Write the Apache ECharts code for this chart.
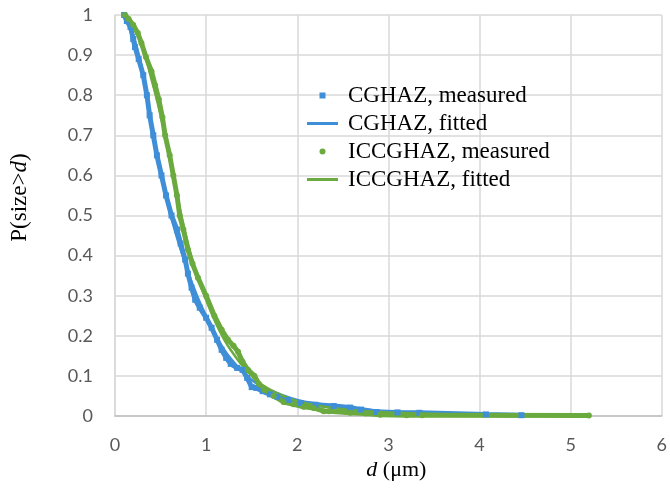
<!DOCTYPE html>
<html>
<head>
<meta charset="utf-8">
<script src="https://cdn.jsdelivr.net/npm/echarts@6/dist/echarts.min.js"></script>
<style>
  html, body { margin: 0; padding: 0; background: #fff; }
  #chart { width: 670px; height: 496px; }
</style>
</head>
<body>
<div id="chart"></div>
<script>
// measured size distributions, [d (um), P(size>d)]
var cgMeasured = [
  [0.10,1.00],[0.13,0.985],[0.17,0.97],[0.20,0.94],[0.22,0.92],[0.26,0.89],
  [0.31,0.85],[0.35,0.80],[0.38,0.75],[0.42,0.70],[0.46,0.65],[0.51,0.60],
  [0.56,0.55],[0.62,0.50],[0.68,0.465],[0.72,0.43],[0.77,0.39],[0.80,0.355],
  [0.84,0.32],[0.88,0.29],[0.93,0.27],[1.00,0.245],[1.06,0.22],[1.12,0.19],
  [1.17,0.165],[1.22,0.145],[1.27,0.13],[1.34,0.12],[1.40,0.115],[1.45,0.095],
  [1.50,0.072],[1.55,0.07],[1.62,0.062],[1.70,0.054],[1.78,0.048],[1.90,0.04],
  [2.04,0.032],[2.20,0.028],[2.40,0.025],[2.58,0.021],[2.70,0.016],[2.87,0.01],
  [3.10,0.009],[3.34,0.008],[4.07,0.004],[4.46,0.002]
];
var icMeasured = [
  [0.11,1.00],[0.15,0.99],[0.20,0.975],[0.25,0.955],[0.29,0.93],[0.34,0.895],
  [0.40,0.86],[0.44,0.825],[0.48,0.79],[0.52,0.745],[0.55,0.70],[0.60,0.65],
  [0.64,0.60],[0.68,0.55],[0.71,0.50],[0.75,0.465],[0.80,0.415],[0.85,0.38],
  [0.91,0.345],[1.00,0.30],[1.09,0.25],[1.17,0.215],[1.24,0.19],[1.30,0.175],
  [1.35,0.16],[1.40,0.135],[1.46,0.115],[1.53,0.10],[1.58,0.08],[1.64,0.065],
  [1.74,0.05],[1.85,0.035],[1.96,0.029],[2.07,0.023],[2.18,0.02],[2.29,0.012],
  [2.35,0.012],[2.58,0.008],[2.75,0.006],[2.91,0.003],[3.20,0.002],[3.37,0.002],
  [5.20,0.001]
];
// fitted curves
var cgFitted = [
  [0.10,1.00],[0.2,0.95],[0.3,0.86],[0.4,0.73],[0.5,0.61],[0.6,0.51],[0.7,0.43],
  [0.8,0.36],[0.9,0.30],[1.0,0.25],[1.1,0.205],[1.2,0.165],[1.3,0.135],[1.4,0.11],
  [1.5,0.09],[1.6,0.075],[1.8,0.055],[2.0,0.04],[2.25,0.03],[2.5,0.022],[2.75,0.016],
  [3.0,0.012],[3.5,0.008],[4.0,0.005],[4.5,0.003],[5.2,0.001]
];
var icFitted = [
  [0.11,1.00],[0.2,0.97],[0.3,0.92],[0.4,0.84],[0.5,0.75],[0.6,0.64],[0.7,0.53],
  [0.8,0.43],[0.9,0.35],[1.0,0.29],[1.1,0.235],[1.2,0.19],[1.3,0.155],[1.4,0.125],
  [1.5,0.10],[1.6,0.08],[1.8,0.055],[2.0,0.037],[2.25,0.025],[2.5,0.017],[2.75,0.012],
  [3.0,0.009],[3.5,0.005],[4.0,0.003],[4.5,0.002],[5.2,0.001]
];
var seriesNames = ['CGHAZ, measured', 'CGHAZ, fitted', 'ICCGHAZ, measured', 'ICCGHAZ, fitted'];

var blue = '#3f8fd8';
var green = '#6aaa3e';
var serif = '"Liberation Serif", "Times New Roman", serif';
var tickFont = { fontFamily: 'Lato, "Open Sans", sans-serif', fontSize: 18, color: '#595959' };

var chart = echarts.init(document.getElementById('chart'));
chart.setOption({
  animation: false,
  backgroundColor: '#fff',
  grid: { left: 113, right: 6, top: 15, bottom: 80 },
  legend: {
    orient: 'vertical',
    left: 302,
    top: 79,
    itemWidth: 31,
    itemHeight: 6,
    itemGap: 5,
    textStyle: { fontFamily: serif, fontSize: 23, color: '#000', padding: [0, 0, 0, 5] },
    data: [
      { name: seriesNames[0], icon: 'path://M0,0H1V1H0Z' },
      { name: seriesNames[1], icon: 'path://M0,0H31V3H0Z' },
      { name: seriesNames[2], icon: 'circle' },
      { name: seriesNames[3], icon: 'path://M0,0H31V3H0Z' }
    ]
  },
  xAxis: {
    type: 'value', min: 0, max: 6, interval: 1,
    name: '{i|d} (μm)',
    nameLocation: 'middle',
    nameGap: 42,
    nameTextStyle: {
      fontFamily: serif, fontSize: 22, color: '#000', padding: [0, 0, 0, 16],
      rich: { i: { fontFamily: serif, fontSize: 22, fontStyle: 'italic', color: '#000' } }
    },
    axisLine: { lineStyle: { color: '#bfbfbf', width: 1.5 } },
    axisTick: { show: false },
    axisLabel: Object.assign({ margin: 20 }, tickFont),
    splitLine: { lineStyle: { color: '#d9d9d9', width: 1.5 } }
  },
  yAxis: {
    type: 'value', min: 0, max: 1, interval: 0.1,
    name: 'P(size>{i|d})',
    nameLocation: 'middle',
    nameGap: 84,
    nameTextStyle: {
      fontFamily: serif, fontSize: 23, color: '#000', padding: [0, 0, 0, 36],
      rich: { i: { fontFamily: serif, fontSize: 23, fontStyle: 'italic', color: '#000' } }
    },
    axisLine: { show: true, lineStyle: { color: '#d9d9d9', width: 1.5 } },
    axisTick: { show: false },
    axisLabel: Object.assign({ margin: 22 }, tickFont),
    splitLine: { lineStyle: { color: '#d9d9d9', width: 1.5 } }
  },
  series: [
    {
      name: seriesNames[0], type: 'line', data: cgMeasured,
      symbol: 'rect', symbolSize: 6, showSymbol: true,
      itemStyle: { color: blue },
      lineStyle: { color: blue, width: 5 }
    },
    {
      name: seriesNames[1], type: 'line', data: cgFitted, smooth: true,
      showSymbol: false,
      itemStyle: { color: blue },
      lineStyle: { color: blue, width: 2.5 }
    },
    {
      name: seriesNames[2], type: 'line', data: icMeasured,
      symbol: 'circle', symbolSize: 6, showSymbol: true,
      itemStyle: { color: green },
      lineStyle: { color: green, width: 5 }
    },
    {
      name: seriesNames[3], type: 'line', data: icFitted, smooth: true,
      showSymbol: false,
      itemStyle: { color: green },
      lineStyle: { color: green, width: 2.5 }
    }
  ]
});
</script>
</body>
</html>
